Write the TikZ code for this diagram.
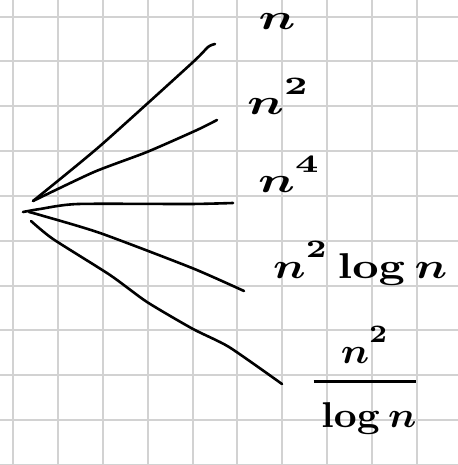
\documentclass[tikz,border=0pt]{standalone}
\usepackage{amsmath}
\usepackage{graphicx}
\newcommand\hsup[1]{^{\raisebox{0.22em}{$\scriptstyle #1$}}}
\newcommand\wide[2][5.2]{\scalebox{#1}[3.6]{\boldmath #2}}
\begin{document}
\begin{tikzpicture}[x=1bp,y=-1bp,
  gridline/.style={line width=2bp,draw={rgb,255:red,210;green,210;blue,210}},
  pen/.style={line width=2.6bp,line cap=round,line join=round,black},
  lbl/.style={inner sep=0pt,anchor=base west}]
\useasboundingbox (0,0) rectangle (458,465);
\fill[white] (0,0) rectangle (458,465);
\foreach \i in {0,...,9} \draw[gridline] ({13.3+44.8*\i},0) -- ({13.3+44.8*\i},465);
\foreach \j in {0,...,10} \draw[gridline] (0,{16.7+44.8*\j}) -- (458,{16.7+44.8*\j});

\coordinate (o) at (33,201);
\coordinate (o3) at (23,212);
\coordinate (o4) at (29,212);
\coordinate (o5) at (31,221);
\coordinate (e1) at (215,44);
\coordinate (e2) at (217,120);
\coordinate (e3) at (233,203);
\coordinate (e4) at (244,291);
\coordinate (e5) at (282,384);

\draw[pen] plot[smooth,tension=0.4] coordinates {(o) (100,146) (192,63) (208,47) (e1)};
\draw[pen] plot[smooth,tension=0.4] coordinates {(o) (94,172) (147,152) (197,130) (e2)};
\draw[pen] plot[smooth,tension=0.4] coordinates {(o3) (40,209) (78,204) (190,204) (e3)};
\draw[pen] plot[smooth,tension=0.4] coordinates {(o4) (40,215) (100,233) (192,268) (e4)};
\draw[pen] plot[smooth,tension=0.4] coordinates {(o5) (53,239) (110,275) (147,302) (193,329) (229,347) (e5)};

\node[lbl,anchor=base] (n1) at (277,30) {\wide{$n$}};
\node[lbl] (n2) at (247,115) {\wide{$n\hsup{2}$}};
\node[lbl] (n4) at (258,193) {\wide{$n\hsup{4}$}};
\node[lbl] (n2l) at (273,278) {\wide[4.6]{$n\hsup{2}\log n$}};
\node[lbl,anchor=base] (fr) at (365,390) {\wide[4.0]{\nulldelimiterspace=0pt$\genfrac{}{}{0.83pt}{0}{n\hsup{2}}{\rule{0pt}{10pt}\log n}$}};
\end{tikzpicture}
\end{document}
